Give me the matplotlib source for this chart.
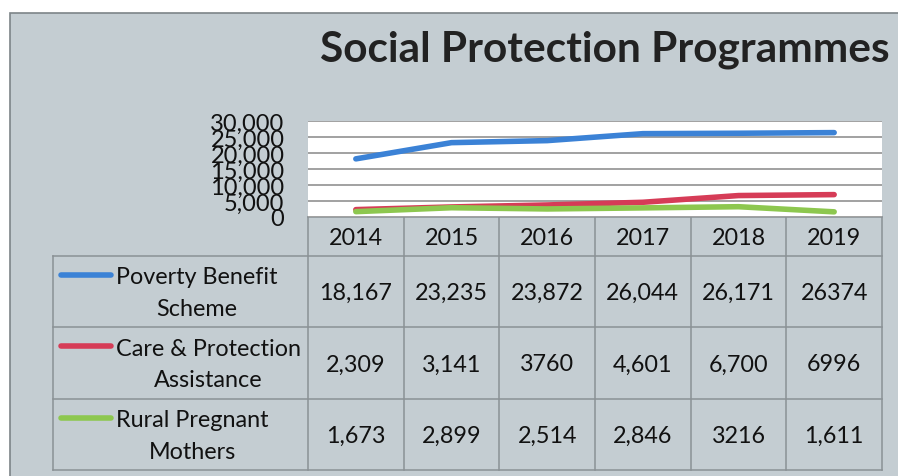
import matplotlib.pyplot as plt
from matplotlib.patches import Rectangle
from matplotlib.ticker import FuncFormatter

plt.rcParams['font.family'] = ['Lato', 'DejaVu Sans']

years = ['2014', '2015', '2016', '2017', '2018', '2019']
series_names = ['Poverty Benefit\nScheme',
                'Care & Protection\nAssistance',
                'Rural Pregnant\nMothers']
# table cells as printed in the data table
poverty_txt = ['18,167', '23,235', '23,872', '26,044', '26,171', '26374']
care_txt = ['2,309', '3,141', '3760', '4,601', '6,700', '6996']
rural_txt = ['1,673', '2,899', '2,514', '2,846', '3216', '1,611']
colors = ['#3b82d6', '#d63c57', '#8dc74f']

table_txt = [poverty_txt, care_txt, rural_txt]
values = [[int(s.replace(',', '')) for s in row] for row in table_txt]

W, H = 898, 477
fig = plt.figure(figsize=(W / 100, H / 100), dpi=100)
fig.patch.set_facecolor('white')

# overlay axes in pixel units for panel, title and table
ov = fig.add_axes([0, 0, 1, 1])
ov.set_xlim(0, W)
ov.set_ylim(H, 0)
ov.axis('off')
ov.add_patch(Rectangle((10, 14), W, H, facecolor='#c4cdd2',
                       edgecolor='#7d8488', linewidth=1.2))
ov.text(605, 50, 'Social Protection Programmes', fontsize=30.5,
        fontweight='bold', color='#222222', ha='center', va='center')

# line chart
x0, x1, y0, y1 = 308, 882, 122, 218
ax = fig.add_axes([x0 / W, 1 - y1 / H, (x1 - x0) / W, (y1 - y0) / H])
ax.set_facecolor('white')
ax.set_xlim(-0.5, len(years) - 0.5)
ax.set_ylim(0, 30000)
ax.set_yticks(range(0, 30001, 5000))
ax.yaxis.set_major_formatter(FuncFormatter(lambda v, p: f'{int(v):,}'))
ax.tick_params(axis='y', length=0, labelsize=17, pad=17, labelcolor='#111111')
ax.set_xticks([])
ax.grid(axis='y', color='#9a9a9a', linewidth=1.3)
ax.set_axisbelow(True)
for s in ax.spines.values():
    s.set_visible(False)
for vals, c in zip(values, colors):
    ax.plot(range(len(years)), vals, color=c, linewidth=4.0,
            solid_capstyle='round', solid_joinstyle='round')

# data table
col_w = (x1 - x0) / len(years)
row_y = [218, 257, 328, 400, 471]
lc = '#8a9195'
lw = 1.1
tab_left = 53
fs = 16.8
ov.plot([x0, x1], [row_y[0], row_y[0]], color=lc, lw=lw)
for r in row_y[1:]:
    ov.plot([tab_left, x1], [r, r], color=lc, lw=lw)
ov.plot([tab_left, tab_left], [row_y[1], row_y[-1]], color=lc, lw=lw)
for i in range(len(years) + 1):
    ov.plot([x0 + i * col_w] * 2, [row_y[0], row_y[-1]], color=lc, lw=lw)

for i, yr in enumerate(years):
    ov.text(x0 + (i + 0.5) * col_w, (row_y[0] + row_y[1]) / 2 + 1, yr,
            fontsize=fs, ha='center', va='center', color='#111111')

for r, (name, row, c) in enumerate(zip(series_names, table_txt, colors)):
    top, bot = row_y[r + 1], row_y[r + 2]
    mid = (top + bot) / 2
    ov.plot([61, 111], [top + 19, top + 19], color=c, lw=4.0,
            solid_capstyle='round')
    ov.text(116, mid + 1, name, fontsize=fs, ha='left', va='center',
            multialignment='center', linespacing=1.6, color='#111111')
    for i, s in enumerate(row):
        ov.text(x0 + (i + 0.5) * col_w, mid + 1, s, fontsize=fs,
                ha='center', va='center', color='#111111')

fig.savefig('out.png', dpi=100)
